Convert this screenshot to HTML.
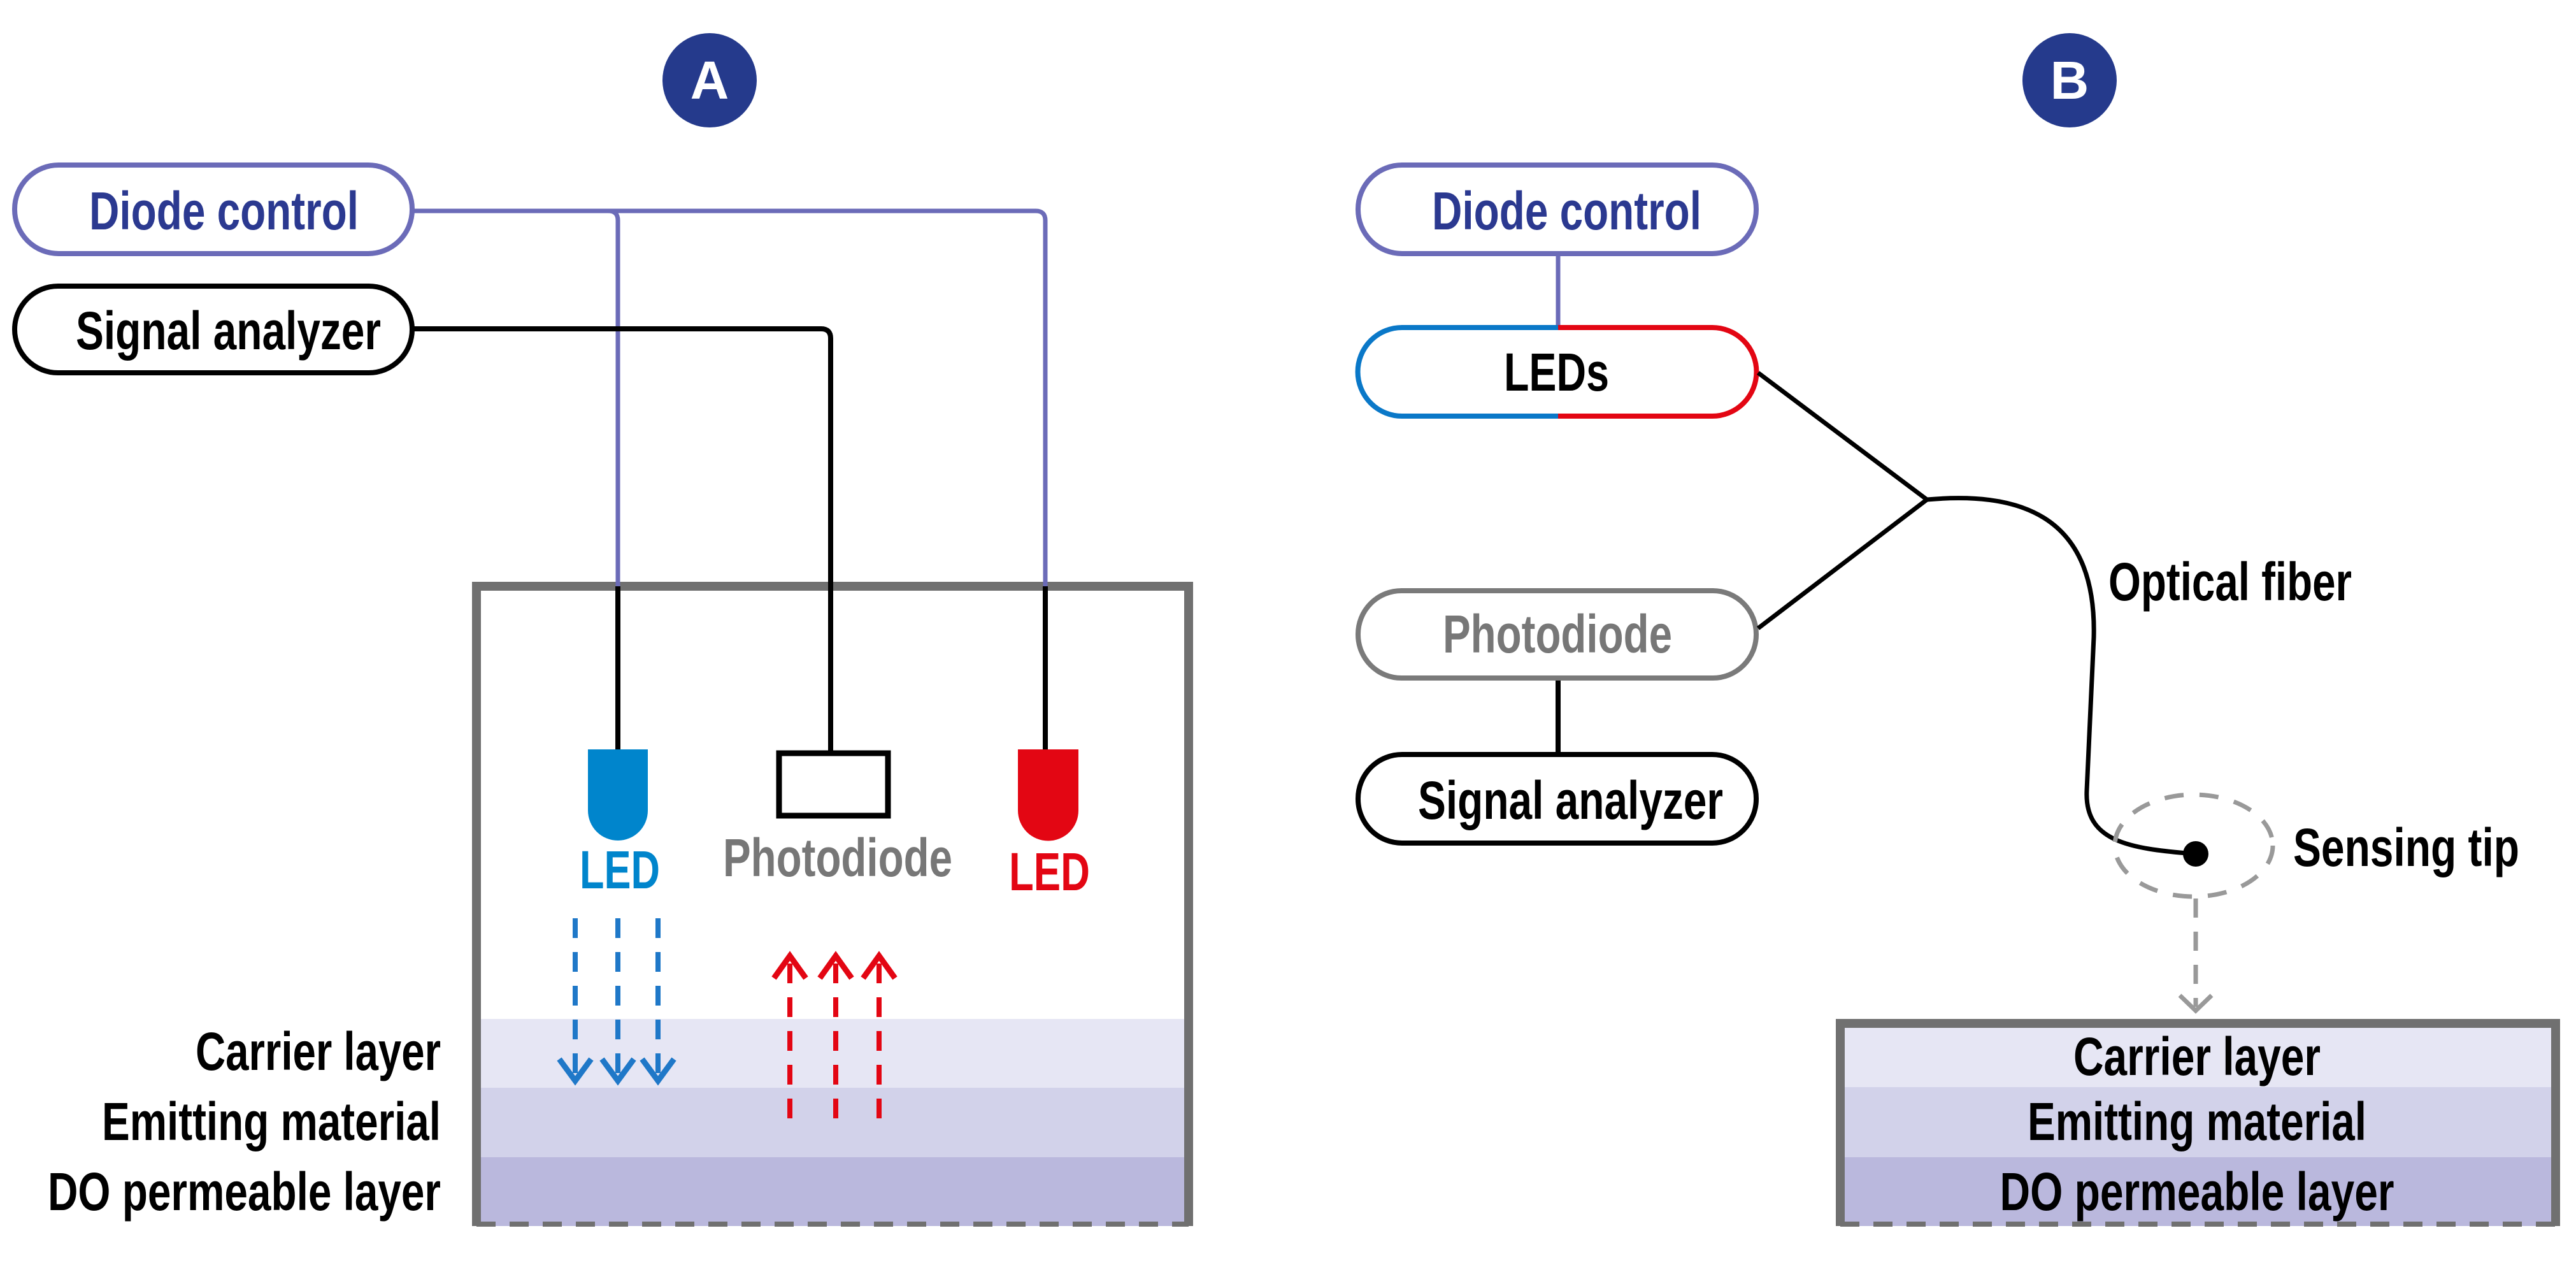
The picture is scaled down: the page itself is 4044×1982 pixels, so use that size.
<!DOCTYPE html>
<html><head><meta charset="utf-8"><style>
html,body{margin:0;padding:0;background:#fff}
svg{display:block}
text{font-family:"Liberation Sans",Arial,sans-serif;font-weight:bold}
</style></head><body>
<svg width="4044" height="1982" viewBox="0 0 4044 1982" xmlns="http://www.w3.org/2000/svg">
<!-- ===== Panel A ===== -->
<circle cx="1114" cy="126" r="74" fill="#253a8c"/>
<text x="1114" y="155" font-size="84" fill="#fff" text-anchor="middle">A</text>

<rect x="748" y="1599" width="1118" height="108" fill="#e6e6f4"/>
<rect x="748" y="1707" width="1118" height="109" fill="#d2d2ea"/>
<rect x="748" y="1816" width="1118" height="108" fill="#bab8dd"/>
<path d="M748,1924 V920 H1866 V1924" fill="none" stroke="#707070" stroke-width="14"/>
<line x1="748" y1="1921" x2="1866" y2="1921" stroke="#707070" stroke-width="8" stroke-dasharray="30,22"/>

<path d="M647,331 H955 Q970,331 970,346 V920" fill="none" stroke="#6b6bb8" stroke-width="7"/>
<path d="M955,331 H1626 Q1641,331 1641,346 V920" fill="none" stroke="#6b6bb8" stroke-width="7"/>
<path d="M647,516 H1289 Q1304,516 1304,531 V1178" fill="none" stroke="#000" stroke-width="8"/>
<line x1="970" y1="920" x2="970" y2="1180" stroke="#000" stroke-width="8"/>
<line x1="1641" y1="920" x2="1641" y2="1180" stroke="#000" stroke-width="8"/>

<rect x="23" y="259" width="624" height="139" rx="69" fill="#fff" stroke="#6b6bb8" stroke-width="8"/>
<text x="140" y="360" font-size="84" fill="#2b3990" textLength="423" lengthAdjust="spacingAndGlyphs">Diode control</text>
<rect x="23" y="449" width="624" height="136" rx="68" fill="#fff" stroke="#000" stroke-width="8"/>
<text x="119" y="548" font-size="84" fill="#000" textLength="479" lengthAdjust="spacingAndGlyphs">Signal analyzer</text>

<path d="M923,1176 H1017 V1272 A47,47 0 0 1 923,1272 Z" fill="#0085cc"/>
<path d="M1598,1176 H1693 V1272 A47.5,47.5 0 0 1 1598,1272 Z" fill="#e30613"/>
<rect x="1223" y="1182" width="171" height="98" fill="#fff" stroke="#000" stroke-width="9"/>
<text x="910" y="1394" font-size="84" fill="#0085cc" textLength="126" lengthAdjust="spacingAndGlyphs">LED</text>
<text x="1135" y="1375" font-size="84" fill="#777" textLength="360" lengthAdjust="spacingAndGlyphs">Photodiode</text>
<text x="1584" y="1397" font-size="84" fill="#e30613" textLength="127" lengthAdjust="spacingAndGlyphs">LED</text>

<g stroke="#1f78c8" stroke-width="8" fill="none">
<line x1="903" y1="1441" x2="903" y2="1690" stroke-dasharray="31,22"/>
<line x1="970" y1="1441" x2="970" y2="1690" stroke-dasharray="31,22"/>
<line x1="1033" y1="1441" x2="1033" y2="1690" stroke-dasharray="31,22"/>
<path d="M878,1662 L903,1696 L928,1662 M945,1662 L970,1696 L995,1662 M1008,1662 L1033,1696 L1058,1662" stroke-width="9"/>
</g>
<g stroke="#e30613" stroke-width="8" fill="none">
<line x1="1240" y1="1755" x2="1240" y2="1505" stroke-dasharray="31,22"/>
<line x1="1312" y1="1755" x2="1312" y2="1505" stroke-dasharray="31,22"/>
<line x1="1380" y1="1755" x2="1380" y2="1505" stroke-dasharray="31,22"/>
<path d="M1215,1535 L1240,1500 L1265,1535 M1287,1535 L1312,1500 L1337,1535 M1355,1535 L1380,1500 L1405,1535" stroke-width="9"/>
</g>

<text x="692" y="1679" font-size="84" fill="#000" text-anchor="end" textLength="385" lengthAdjust="spacingAndGlyphs">Carrier layer</text>
<text x="692" y="1789" font-size="84" fill="#000" text-anchor="end" textLength="532" lengthAdjust="spacingAndGlyphs">Emitting material</text>
<text x="692" y="1899" font-size="84" fill="#000" text-anchor="end" textLength="617" lengthAdjust="spacingAndGlyphs">DO permeable layer</text>

<!-- ===== Panel B ===== -->
<circle cx="3249" cy="126" r="74" fill="#253a8c"/>
<text x="3249" y="155" font-size="84" fill="#fff" text-anchor="middle">B</text>

<line x1="2446" y1="398" x2="2446" y2="514" stroke="#6b6bb8" stroke-width="7"/>
<line x1="2446" y1="1064" x2="2446" y2="1184" stroke="#000" stroke-width="8"/>

<rect x="2132" y="259" width="625" height="139" rx="69" fill="#fff" stroke="#6b6bb8" stroke-width="8"/>
<text x="2248" y="360" font-size="84" fill="#2b3990" textLength="423" lengthAdjust="spacingAndGlyphs">Diode control</text>

<path d="M2446,514 H2201 A69.5,69.5 0 0 0 2201,653 H2446" fill="#fff" stroke="#0a78c8" stroke-width="8"/>
<path d="M2446,514 H2688 A69.5,69.5 0 0 1 2688,653 H2446" fill="#fff" stroke="#e30613" stroke-width="8"/>
<text x="2361" y="613" font-size="84" fill="#000" textLength="165" lengthAdjust="spacingAndGlyphs">LEDs</text>

<rect x="2132" y="927" width="625" height="137" rx="68" fill="#fff" stroke="#7a7a7a" stroke-width="8"/>
<text x="2265" y="1024" font-size="84" fill="#777" textLength="360" lengthAdjust="spacingAndGlyphs">Photodiode</text>

<rect x="2132" y="1184" width="625" height="139" rx="69" fill="#fff" stroke="#000" stroke-width="8"/>
<text x="2226" y="1285" font-size="84" fill="#000" textLength="479" lengthAdjust="spacingAndGlyphs">Signal analyzer</text>

<path d="M2760,585 L3025,784 L2760,986" fill="none" stroke="#000" stroke-width="7"/>
<path d="M3025,784 C3160,772 3292,800 3287,1000 L3276,1240 C3272,1320 3340,1332 3447,1340" fill="none" stroke="#000" stroke-width="7"/>
<ellipse cx="3444" cy="1327" rx="124" ry="80" fill="none" stroke="#999" stroke-width="7" stroke-dasharray="30,25"/>
<circle cx="3447" cy="1340" r="20" fill="#000"/>
<line x1="3447" y1="1410" x2="3447" y2="1580" stroke="#999" stroke-width="7" stroke-dasharray="30,22"/>
<path d="M3422,1562 L3447,1586 L3472,1562" fill="none" stroke="#999" stroke-width="7"/>
<text x="3310" y="942" font-size="84" fill="#000" textLength="382" lengthAdjust="spacingAndGlyphs">Optical fiber</text>
<text x="3600" y="1359" font-size="84" fill="#000" textLength="355" lengthAdjust="spacingAndGlyphs">Sensing tip</text>

<rect x="2889" y="1606" width="1123" height="100" fill="#e6e6f4"/>
<rect x="2889" y="1706" width="1123" height="110" fill="#d2d2ea"/>
<rect x="2889" y="1816" width="1123" height="108" fill="#bab8dd"/>
<path d="M2889,1924 V1606 H4012 V1924" fill="none" stroke="#707070" stroke-width="14"/>
<line x1="2889" y1="1921" x2="4012" y2="1921" stroke="#707070" stroke-width="8" stroke-dasharray="30,22"/>
<text x="3449" y="1687" font-size="84" fill="#000" text-anchor="middle" textLength="388" lengthAdjust="spacingAndGlyphs">Carrier layer</text>
<text x="3449" y="1789" font-size="84" fill="#000" text-anchor="middle" textLength="532" lengthAdjust="spacingAndGlyphs">Emitting material</text>
<text x="3449" y="1899" font-size="84" fill="#000" text-anchor="middle" textLength="619" lengthAdjust="spacingAndGlyphs">DO permeable layer</text>
</svg>
</body></html>
